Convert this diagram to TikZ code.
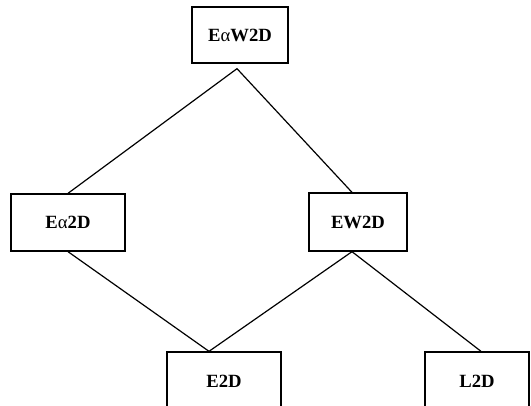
\documentclass[tikz,border=0pt]{standalone}
\usepackage{fontspec}
\setmainfont{Liberation Serif}
\usepackage{tikz}

\begin{document}
\begin{tikzpicture}[x=0.75pt,y=-0.75pt,
  box/.style={draw,line width=1pt,inner sep=0pt,font=\bfseries\fontsize{14}{16}\selectfont},
  link/.style={line width=0.9pt}]
\useasboundingbox (0,0) rectangle (531,406);
% lattice of the models
\node[box,minimum width=72pt,minimum height=42pt] (eaw2d) at (240,35) {E{\mdseries α}W2D};
\node[box,minimum width=85.5pt,minimum height=42.75pt] (ea2d) at (68,222.5) {E{\mdseries α}2D};
\node[box,minimum width=73.5pt,minimum height=43.5pt] (ew2d) at (358,222) {EW2D};
\node[box,minimum width=85.5pt,minimum height=43.5pt] (e2d) at (224,381) {E2D};
\node[box,minimum width=78pt,minimum height=43.5pt] (l2d) at (477,381) {L2D};
\draw[link] (ea2d.north) -- ([shift={(-2.25pt,-3.75pt)}]eaw2d.south) -- ([xshift=-4.5pt]ew2d.north);
\draw[link] (ea2d.south) -- ([xshift=-11.25pt]e2d.north) -- ([xshift=-4.5pt]ew2d.south);
\draw[link] ([xshift=-4.5pt]ew2d.south) -- ([xshift=3pt]l2d.north);
\end{tikzpicture}
\end{document}
